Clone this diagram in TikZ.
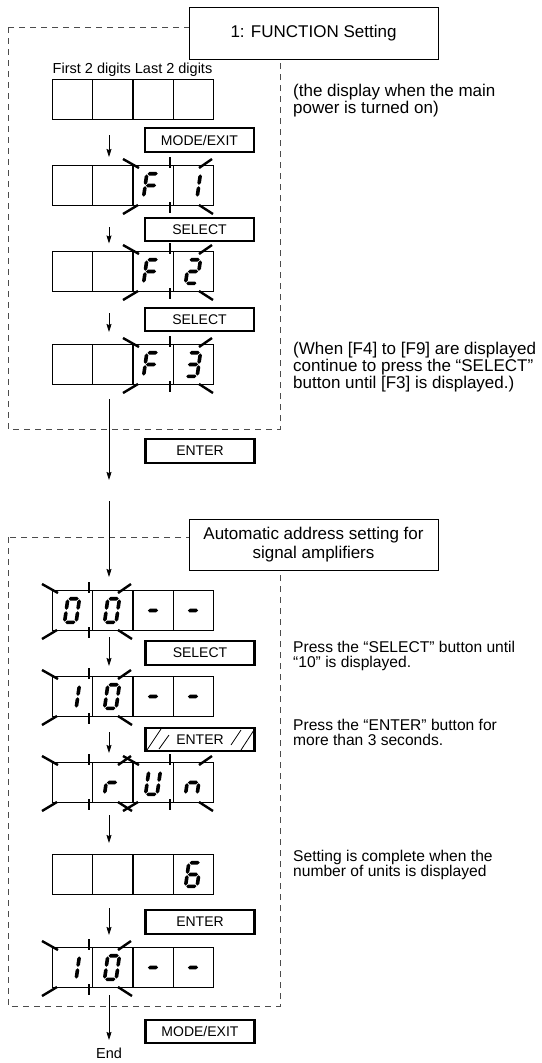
\documentclass[tikz,border=0pt]{standalone}
\usepackage{fontspec}
\setmainfont{Liberation Sans}
\usetikzlibrary{arrows.meta}
\tikzset{
  dashbox/.style={draw=black!70, line width=0.9pt, dash pattern=on 6pt off 5pt},
  titlebox/.style={draw, fill=white, line width=0.9pt, minimum width=249pt, inner sep=0pt, align=center, font=\fontsize{17}{19}\selectfont},
  btn/.style={draw, line width=2.3pt, minimum width=109pt, minimum height=23.5pt, inner sep=0pt, font=\fontsize{14}{14}\selectfont},
  note/.style={anchor=west, align=left, inner sep=0pt, font=\fontsize{15.6}{15}\selectfont},
  bignote/.style={note, font=\fontsize{17}{15}\selectfont},
  lbl/.style={inner sep=1pt, font=\fontsize{14.5}{15}\selectfont},
  unit/.style={draw, line width=0.9pt, minimum width=80pt, minimum height=40pt, inner sep=0pt, outer sep=0pt},
  cell/.style={line width=0.9pt},
  flow/.style={-{Stealth[length=8pt,width=5pt,inset=1pt]}, line width=0.8pt},
  blinkline/.style={line width=2.4pt},
  hatch/.style={line width=0.8pt},
}
% seven segment digit (tapered segments)
\def\dhw{5.8}\def\dhh{11.8}\def\dgp{0.7}\def\dsl{0.14}\def\dt{1.8}
\newcommand\SP[2]{({\dcx+(#1)+\dsl*(#2)},{\dcy-(#2)})}
\newcommand\hseg[3]{\fill \SP{#1}{#3} -- \SP{#1+\dt}{#3+\dt} -- \SP{#2-\dt}{#3+\dt} -- \SP{#2}{#3} -- \SP{#2-\dt}{#3-\dt} -- \SP{#1+\dt}{#3-\dt} -- cycle;}
\newcommand\vseg[3]{\fill \SP{#1}{#2} -- \SP{#1+\dt}{#2-\dt} -- \SP{#1+\dt}{#3+\dt} -- \SP{#1}{#3} -- \SP{#1-\dt}{#3+\dt} -- \SP{#1-\dt}{#2-\dt} -- cycle;}
\newcommand\sega{\hseg{-\dhw+\dgp}{\dhw-\dgp}{\dhh}}
\newcommand\segb{\vseg{\dhw}{\dhh-\dgp}{\dgp}}
\newcommand\segc{\vseg{\dhw}{-\dgp}{-\dhh+\dgp}}
\newcommand\segd{\hseg{-\dhw+\dgp}{\dhw-\dgp}{-\dhh}}
\newcommand\sege{\vseg{-\dhw}{-\dgp}{-\dhh+\dgp}}
\newcommand\segf{\vseg{-\dhw}{\dhh-\dgp}{\dgp}}
\newcommand\segg{\hseg{-\dhw+\dgp}{\dhw-\dgp}{0}}
\newcommand\sdigit[3]{\def\dcx{#1}\def\dcy{#2}\foreach \s in {#3}{\csname seg\s\endcsname}}
% display of two 2-digit units
\newcommand\dispbox[2]{%
  \node[unit] (#1a) at (92,#2+20) {};
  \node[unit] (#1b) at (173,#2+20) {};
  \draw[cell] (#1a.north) -- (#1a.south);
  \draw[cell] (#1b.north) -- (#1b.south);
}
% blinking marks: left x, right x, top y
\newcommand\blinkgrp[3]{%
  \draw[blinkline] (#1-10,#3-6) -- (#1+6,#3+3);
  \draw[blinkline] (#2-14,#3+3) -- (#2-1,#3-6);
  \draw[blinkline] (#1-10,#3+49) -- (#1+5,#3+40);
  \draw[blinkline] (#2-14,#3+40) -- (#2,#3+49);
  \draw[blinkline] ({(#1+#2)/2-3},#3-8) -- ++(0,11);
  \draw[blinkline] ({(#1+#2)/2-3},#3+37) -- ++(0,11);
}
\begin{document}
\begin{tikzpicture}[x=1pt,y=-1pt]
\useasboundingbox (0,0) rectangle (541,1063);
% frames
\draw[dashbox] (8,27) rectangle (280,429);
\draw[dashbox] (8,537) rectangle (280,1006);
\node[titlebox, minimum height=52pt] (t1) at (313.5,33) {1: FUNCTION Setting};
\node[titlebox, minimum height=51pt] (t2) at (313.5,544.5) {Automatic address setting for\\signal amplifiers};
\node[lbl] (hdr) at (132.5,70) {First 2 digits Last 2 digits};

% displays
\dispbox{d1}{79}
\dispbox{d2}{165}
\sdigit{151}{185.5}{a,f,e,g}\sdigit{193}{185.5}{b,c}
\blinkgrp{133}{213}{165}
\dispbox{d3}{251}
\sdigit{151}{271.5}{a,f,e,g}\sdigit{193}{271.5}{a,b,g,e,d}
\blinkgrp{133}{213}{251}
\dispbox{d4}{344}
\sdigit{151}{364.5}{a,f,e,g}\sdigit{193}{364.5}{a,b,g,c,d}
\blinkgrp{133}{213}{344}
\dispbox{d5}{590}
\sdigit{72}{610.5}{a,b,c,d,e,f}\sdigit{112}{610.5}{a,b,c,d,e,f}\sdigit{153}{610.5}{g}\sdigit{193}{610.5}{g}
\blinkgrp{52}{132}{590}
\dispbox{d6}{676}
\sdigit{72}{696.5}{b,c}\sdigit{112}{696.5}{a,b,c,d,e,f}\sdigit{153}{696.5}{g}\sdigit{193}{696.5}{g}
\blinkgrp{52}{132}{676}
\dispbox{d7}{762}
\sdigit{112}{782.5}{e,g}\sdigit{153}{782.5}{b,c,d,e,f}\sdigit{193}{782.5}{c,e,g}
\blinkgrp{52}{132}{762}
\blinkgrp{133}{213}{762}
\dispbox{d8}{854}
\sdigit{193}{874.5}{a,c,d,e,f,g}
\dispbox{d9}{947}
\sdigit{72}{967.5}{b,c}\sdigit{112}{967.5}{a,b,c,d,e,f}\sdigit{153}{967.5}{g}\sdigit{193}{967.5}{g}
\blinkgrp{52}{132}{947}

% buttons
\node[btn] (b1) at (199.5,140) {MODE/EXIT};
\node[btn] (b2) at (199.5,229.5) {SELECT};
\node[btn] (b3) at (199.5,319.5) {SELECT};
\node[btn] (b4) at (200,451) {ENTER};
\node[btn] (b5) at (200,653) {SELECT};
\node[btn] (b6) at (200,739.5) {ENTER};
\draw[hatch] (147,750) -- (161,729);
\draw[hatch] (159,749) -- (169,735);
\draw[hatch] (231,745) -- (241,730);
\draw[hatch] (241,750) -- (254,730);
\node[btn] (b7) at (200,922) {ENTER};
\node[btn] (b8) at (200,1031.5) {MODE/EXIT};

% notes
\node[bignote] (n1) at (293,101) {(the display when the main\\power is turned on)};
\node[bignote] (n2) at (293,367) {(When [F4] to [F9] are displayed\\continue to press the “SELECT”\\button until [F3] is displayed.)};
\node[note] (n3) at (293,656) {Press the “SELECT” button until\\“10” is displayed.};
\node[note] (n4) at (293,732) {Press the “ENTER” button for\\more than 3 seconds.};
\node[note] (n5) at (293,865) {Setting is complete when the\\number of units is displayed};

% arrows
\coordinate (a1s) at (109,135);  \coordinate (a1e) at (109,157);
\coordinate (a2s) at (109,227);  \coordinate (a2e) at (109,243.5);
\coordinate (a3s) at (109,313);  \coordinate (a3e) at (109,332);
\coordinate (a4s) at (109,399);  \coordinate (a4e) at (109,480);
\coordinate (a5s) at (109,501);  \coordinate (a5e) at (109,577);
\coordinate (a6s) at (109,637);  \coordinate (a6e) at (109,666);
\coordinate (a7s) at (109,732);  \coordinate (a7e) at (109,753);
\coordinate (a8s) at (109,815);  \coordinate (a8e) at (109,843);
\coordinate (a9s) at (109,908);  \coordinate (a9e) at (109,935);
\coordinate (a10s) at (109,995);
\node[lbl, anchor=north] (endn) at (109,1047) {End};
\draw[flow] (a1s) -- (a1e);
\draw[flow] (a2s) -- (a2e);
\draw[flow] (a3s) -- (a3e);
\draw[flow] (a4s) -- (a4e);
\draw[flow] (a5s) -- (a5e);
\draw[flow] (a6s) -- (a6e);
\draw[flow] (a7s) -- (a7e);
\draw[flow] (a8s) -- (a8e);
\draw[flow] (a9s) -- (a9e);
\draw[flow, shorten >=7pt] (a10s) -- (endn.north);
\end{tikzpicture}
\end{document}
